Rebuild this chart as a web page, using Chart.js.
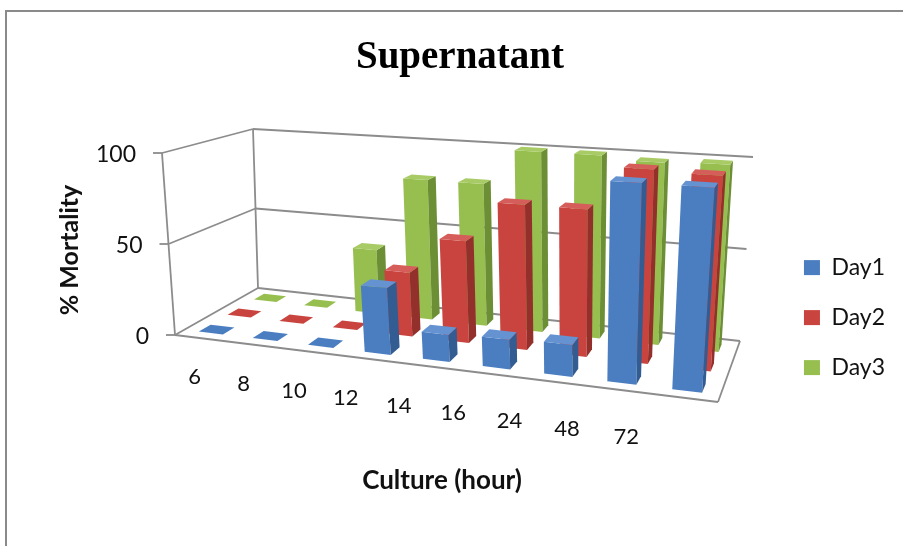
<!DOCTYPE html>
<html>
<head>
<meta charset="utf-8">
<script src="https://cdn.jsdelivr.net/npm/chart.js@4.4.1/dist/chart.umd.min.js"></script>
<style>
  html, body { margin: 0; padding: 0; background: #ffffff; }
  #wrap { width: 903px; height: 546px; position: relative; }
</style>
</head>
<body>
<div id="wrap"><canvas id="chart" width="903" height="546"></canvas></div>
<script>
// ---- data ----
const categories = ['6', '8', '10', '12', '14', '16', '24', '48', '72'];
const day1 = [0, 0, 0, 35, 14, 15, 16, 99, 99];
const day2 = [0, 0, 0, 35, 55, 77, 77, 100, 99];
const day3 = [0, 0, 37, 80, 80, 100, 100, 98, 99];
const seriesNames = ['Day1', 'Day2', 'Day3'];
const yTickStep = 50;

// ---- styling ----
const faceColors = [
  { front: '#4A7EC0', top: '#6592D0', side: '#335C92' },
  { front: '#C9443F', top: '#D65E5A', side: '#93302C' },
  { front: '#97BF50', top: '#A8CB66', side: '#6C8E35' }
];
const wallColor = '#8C8C8C';
const labelFont = 'Lato, "Open Sans", sans-serif';

// 3D box of the plot: floor and ceiling quads (front-left, front-right, back-right, back-left)
const floorQuad = [[175, 335], [718, 402], [740, 341], [258, 288]];
const ceilQuad  = [[162, 153], [733, 191], [753, 157], [253, 129]];

function squareToQuad(q) {
  const [x0, y0] = q[0], [x1, y1] = q[1], [x2, y2] = q[2], [x3, y3] = q[3];
  const dx1 = x1 - x2, dx2 = x3 - x2, dx3 = x0 - x1 + x2 - x3;
  const dy1 = y1 - y2, dy2 = y3 - y2, dy3 = y0 - y1 + y2 - y3;
  const den = dx1 * dy2 - dx2 * dy1;
  const g = (dx3 * dy2 - dx2 * dy3) / den;
  const h = (dx1 * dy3 - dx3 * dy1) / den;
  const a = x1 - x0 + g * x1, b = x3 - x0 + h * x3, c = x0;
  const d = y1 - y0 + g * y1, e = y3 - y0 + h * y3, f = y0;
  return (u, w) => {
    const z = g * u + h * w + 1;
    return [(a * u + b * w + c) / z, (d * u + e * w + f) / z];
  };
}
const floorMap = squareToQuad(floorQuad);
const ceilMap = squareToQuad(ceilQuad);

// u: along categories (0..1), v: value height (0..1), w: depth (0 front .. 1 back)
function project(u, v, w) {
  const a = floorMap(u, w), b = ceilMap(u, w);
  return [a[0] + (b[0] - a[0]) * v, a[1] + (b[1] - a[1]) * v];
}

function normU(chart, px) { const s = chart.scales.x; return (px - s.left) / s.width; }
function normV(chart, py) { const s = chart.scales.y; return (s.bottom - py) / s.height; }

function poly(ctx, pts, fill) {
  ctx.beginPath();
  ctx.moveTo(pts[0][0], pts[0][1]);
  for (let i = 1; i < pts.length; i++) ctx.lineTo(pts[i][0], pts[i][1]);
  ctx.closePath();
  ctx.fillStyle = fill;
  ctx.fill();
}
function line(ctx, a, b) {
  ctx.beginPath();
  ctx.moveTo(a[0], a[1]);
  ctx.lineTo(b[0], b[1]);
  ctx.stroke();
}

// Outer frame of the chart object
const framePlugin = {
  id: 'frame',
  beforeDraw(chart) {
    const ctx = chart.ctx;
    ctx.save();
    ctx.strokeStyle = '#8A8A8A';
    ctx.lineWidth = 2;
    ctx.beginPath();
    ctx.moveTo(6, 546);
    ctx.lineTo(6, 11);
    ctx.lineTo(903, 11);
    ctx.stroke();
    ctx.restore();
  }
};

// Walls, floor, gridlines and axis labels in perspective
const wallsPlugin = {
  id: 'walls',
  beforeDatasetsDraw(chart) {
    const ctx = chart.ctx;
    const ys = chart.scales.y;
    ctx.save();
    ctx.strokeStyle = wallColor;
    ctx.lineWidth = 1.8;
    ctx.lineJoin = 'round';
    // floor outline
    line(ctx, project(0, 0, 0), project(1, 0, 0));
    line(ctx, project(1, 0, 0), project(1, 0, 1));
    // left axis edge and back-left edge
    line(ctx, project(0, 0, 0), project(0, 1, 0));
    line(ctx, project(0, 0, 1), project(0, 1, 1));
    // gridlines on the left and back walls
    ys.ticks.forEach(t => {
      const v = normV(chart, ys.getPixelForValue(t.value));
      line(ctx, project(0, v, 0), project(0, v, 1));
      line(ctx, project(0, v, 1), project(1, v, 1));
      const p = project(0, v, 0);
      line(ctx, [p[0] - 9, p[1]], p);
      ctx.fillStyle = '#111';
      ctx.font = '23px ' + labelFont;
      ctx.textAlign = 'right';
      ctx.textBaseline = 'middle';
      ctx.fillText(String(t.value), p[0] - 26, p[1] + 2);
    });
    // category labels along the front edge
    const xs = chart.scales.x;
    ctx.font = '22px ' + labelFont;
    ctx.textAlign = 'center';
    ctx.textBaseline = 'middle';
    ctx.fillStyle = '#111';
    categories.forEach((c, i) => {
      const u = normU(chart, xs.getPixelForValue(i));
      const f = project(u, 0, 0);
      ctx.fillText(xs.getLabelForValue(i), 14 + 0.895 * f[0], f[1] + 39);
    });
    // axis titles
    ctx.font = 'bold 26px ' + labelFont;
    ctx.fillText('Culture (hour)', 442, 481);
    ctx.save();
    ctx.translate(70, 250);
    ctx.rotate(-Math.PI / 2);
    ctx.font = 'bold 25px ' + labelFont;
    ctx.fillText('% Mortality', 0, 0);
    ctx.restore();
    ctx.restore();
  },
  // each series is drawn as a row of boxes, back rows first
  beforeDatasetDraw(chart, args) {
    const ctx = chart.ctx;
    const d = args.index;
    const col = faceColors[d];
    const rows = chart.data.datasets.length;
    const w0 = (d + 0.3) / rows, w1 = (d + 0.7) / rows;
    ctx.save();
    args.meta.data.forEach(el => {
      const u0 = normU(chart, el.x - el.width / 2);
      const u1 = normU(chart, el.x + el.width / 2);
      const v0 = normV(chart, el.base);
      const v1 = normV(chart, el.y);
      const fbl = project(u0, v0, w0), fbr = project(u1, v0, w0);
      const ftl = project(u0, v1, w0), ftr = project(u1, v1, w0);
      const bbr = project(u1, v0, w1), btr = project(u1, v1, w1), btl = project(u0, v1, w1);
      const solid = v1 - v0 > 0.001;
      if (solid) {
        poly(ctx, [fbl, fbr, ftr, ftl], col.front);
        poly(ctx, [fbr, bbr, btr, ftr], col.side);
      }
      poly(ctx, [ftl, ftr, btr, btl], solid ? col.top : col.front);
    });
    ctx.restore();
    return false;
  }
};

const ctx = document.getElementById('chart').getContext('2d');
new Chart(ctx, {
  type: 'bar',
  data: {
    labels: categories,
    datasets: [day1, day2, day3].map((vals, i) => ({
      label: seriesNames[i],
      data: vals,
      backgroundColor: faceColors[i].front,
      borderWidth: 0,
      grouped: false,
      categoryPercentage: 1,
      barPercentage: 0.45
    }))
  },
  options: {
    responsive: false,
    animation: false,
    devicePixelRatio: 1,
    layout: { padding: { left: 25, right: 8, top: 0, bottom: 0 } },
    scales: {
      x: { display: false },
      y: { display: false, min: 0, max: 100, ticks: { stepSize: yTickStep } }
    },
    plugins: {
      tooltip: { enabled: false },
      title: {
        display: true,
        text: 'Supernatant',
        color: '#000',
        font: { family: '"Liberation Serif", "Times New Roman", serif', size: 39, weight: 'bold', lineHeight: 1.2 },
        padding: { top: 35, bottom: 10 }
      },
      legend: {
        position: 'right',
        title: { display: true, text: '', font: { size: 1 }, padding: { top: 88, bottom: 0 } },
        labels: {
          color: '#111',
          font: { family: labelFont, size: 23 },
          boxWidth: 16,
          boxHeight: 15,
          padding: 27
        }
      }
    }
  },
  plugins: [framePlugin, wallsPlugin]
});
</script>
</body>
</html>
